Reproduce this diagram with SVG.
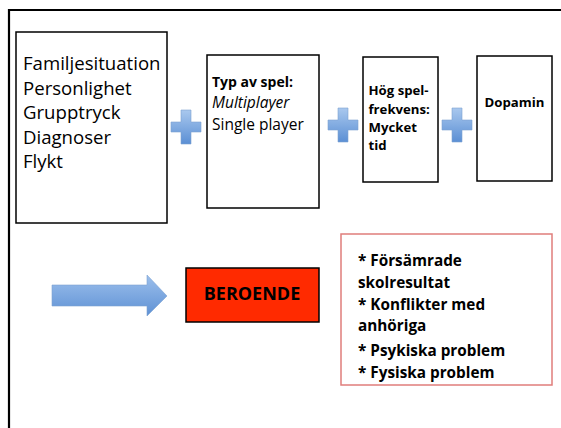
<svg xmlns="http://www.w3.org/2000/svg" width="561" height="428" viewBox="0 0 561 428">
<defs>
<linearGradient id="blueV" x1="0" y1="0" x2="0" y2="1">
<stop offset="0" stop-color="#a9c8ee"/>
<stop offset="1" stop-color="#5b8fd4"/>
</linearGradient>
<linearGradient id="blueH" x1="0" y1="0" x2="0" y2="1">
<stop offset="0" stop-color="#9cbfec"/>
<stop offset="1" stop-color="#5e91d4"/>
</linearGradient>
<path id="plus" d="M-5,-17 H5 V-5 H15 V5 H5 V17 H-5 V5 H-15 V-5 H-5 Z"/>
</defs>
<style>
.box{fill:#fff;stroke:#000;stroke-width:1.5}
.t{font-family:"Open Sans","DejaVu Sans",sans-serif;fill:#000}
.reg{font-size:18.6px}
.b{font-weight:bold}
.pl{fill:url(#blueV);stroke:#7ea3d2;stroke-width:0.6}
.s2{font-size:15.5px}
.s3{font-size:13.2px;font-weight:bold}
.s5{font-size:15.3px;font-weight:bold}
</style>
<rect width="561" height="428" fill="#fff"/>
<g id="frame">
<path d="M9,428 V10 H561" fill="none" stroke="#000" stroke-width="2.2"/>
</g>
<g id="node-factors">
<rect class="box" x="16" y="32" width="151" height="191"/>
<text class="t reg" x="23" y="70">Familjesituation</text>
<text class="t reg" x="23" y="94.5">Personlighet</text>
<text class="t reg" x="23" y="119">Grupptryck</text>
<text class="t reg" x="23" y="143.5">Diagnoser</text>
<text class="t reg" x="23" y="168">Flykt</text>
</g>
<g id="node-speltyp">
<rect class="box" x="207" y="55" width="112" height="153"/>
<text class="t b" font-size="14" x="212" y="87">Typ av spel:</text>
<text class="t s2" font-style="italic" x="212" y="108">Multiplayer</text>
<text class="t s2" x="212" y="130">Single player</text>
</g>
<g id="node-frekvens">
<rect class="box" x="363" y="57" width="75" height="125"/>
<text class="t s3" x="368.5" y="95">Hög spel-</text>
<text class="t s3" x="368.5" y="113.5">frekvens:</text>
<text class="t s3" x="368.5" y="132">Mycket</text>
<text class="t s3" x="368.5" y="150">tid</text>
</g>
<g id="node-dopamin">
<rect class="box" x="477" y="56" width="75" height="125"/>
<text class="t s3" x="514.5" y="107" text-anchor="middle">Dopamin</text>
</g>
<g id="node-beroende">
<rect x="186" y="268" width="133" height="54" fill="#ff2a00" stroke="#000" stroke-width="1.5"/>
<text class="t b" font-size="18" x="252" y="300" text-anchor="middle">BEROENDE</text>
</g>
<g id="node-konsekvenser">
<rect x="341" y="234" width="211" height="151" fill="#fff" stroke="#e07d7b" stroke-width="1.5"/>
<text class="t s5" x="358" y="266">* Försämrade</text>
<text class="t s5" x="358" y="288">skolresultat</text>
<text class="t s5" x="358" y="310">* Konflikter med</text>
<text class="t s5" x="358" y="331">anhöriga</text>
<text class="t s5" x="358" y="356">* Psykiska problem</text>
<text class="t s5" x="358" y="378">* Fysiska problem</text>
</g>
<g id="connectors">
<use href="#plus" class="pl" transform="translate(186,127)"/>
<use href="#plus" class="pl" transform="translate(343,125)"/>
<use href="#plus" class="pl" transform="translate(457,125)"/>
<path d="M52,285 H147 V275 L167,296 L147,316 V306 H52 Z" fill="url(#blueH)" stroke="#7ea3d2" stroke-width="0.6"/>
</g>
</svg>
